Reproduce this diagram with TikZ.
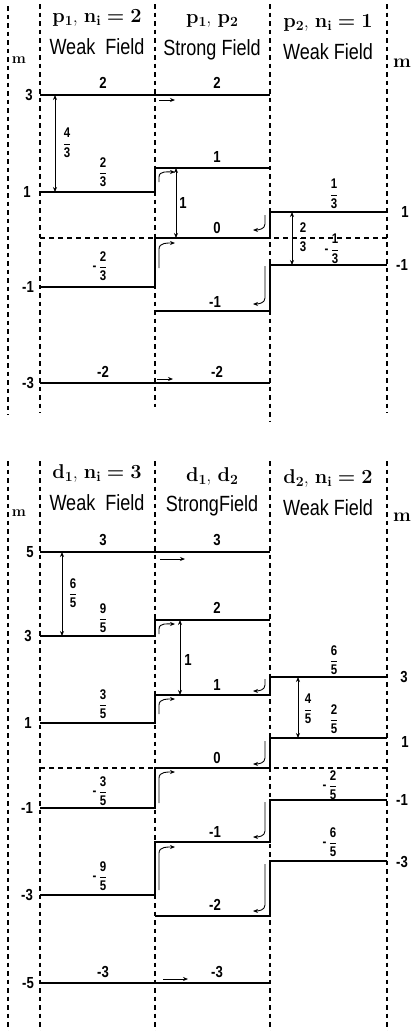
\documentclass[tikz,border=0pt]{standalone}
\usepackage{amsmath}
\usepackage{fontspec}
\usetikzlibrary{arrows.meta}
\newfontfamily\sff[FakeStretch=0.82]{Liberation Sans}
\newcommand\fr[2]{$\genfrac{}{}{0.9pt}{0}{\hbox{#1}}{\hbox{#2}}$}
\newcommand\hsub[2]{\textbf{#1}\raisebox{-0.35ex}{\fontsize{14}{14}\selectfont\textbf{#2}}}
\tikzset{
  vdsh/.style={line width=1.3pt, dash pattern=on 4.5pt off 4pt},
  hdsh/.style={line width=1.2pt, dash pattern=on 5pt off 4pt},
  lvlline/.style={line width=2pt},
  dblarr/.style={{Stealth[length=5pt,width=4pt]}-{Stealth[length=5pt,width=4pt]}, line width=0.8pt},
  hookarr/.style={-{Stealth[length=5pt,width=4pt]}, line width=0.9pt},
  hdrtxt/.style={font=\fontsize{20}{22}\selectfont, inner sep=0pt},
  fldtxt/.style={font=\sff\fontsize{22}{24}\selectfont, inner sep=0pt},
  numtxt/.style={font=\sff\bfseries\fontsize{16}{16}\selectfont, inner sep=0pt},
  axtxt/.style={font=\sff\bfseries\fontsize{16}{16}\selectfont, inner sep=0pt},
  frctxt/.style={font=\sff\bfseries\fontsize{14}{14}\selectfont, inner sep=0pt},
  mltxt/.style={font=\bfseries\fontsize{15}{15}\selectfont, inner sep=0pt},
  mrtxt/.style={font=\bfseries\fontsize{19}{19}\selectfont, inner sep=0pt}
}
\begin{document}
\begin{tikzpicture}[x=1pt,y=-1pt]
\useasboundingbox (0,0) rectangle (414,1031);
% ---------------- TOP: p electrons ----------------
\draw[vdsh] (8,6) -- (8,415);
\draw[vdsh] (40,4) -- (40,413);
\draw[vdsh] (155,4) -- (155,407);
\draw[vdsh] (270,4) -- (270,422);
\draw[vdsh] (387,4) -- (387,413);
\draw[hdsh] (40,238) -- (387,238);
\draw[lvlline] (40,95) -- (270,95);
\draw[lvlline] (40,192) -- (155,192) -- (155,168) -- (270,168);
\draw[lvlline] (40,287) -- (155,287) -- (155,238) -- (270,238) -- (270,212) -- (387,212);
\draw[lvlline] (155,311) -- (270,311) -- (270,265) -- (387,265);
\draw[lvlline] (40,383) -- (270,383);
% headers
\node[hdrtxt] (h1) at (97,18) {\hsub{p}{1}, \hsub{n}{i} \textbf{=} \textbf{2}};
\node[fldtxt] (f1) at (97,47) {Weak\ \ Field};
\node[hdrtxt] (h2) at (212,21) {\hsub{p}{1}, \hsub{p}{2}};
\node[fldtxt] (f2) at (212,50) {Strong Field};
\node[hdrtxt] (h3) at (328,23) {\hsub{p}{2}, \hsub{n}{i} \textbf{=} \textbf{1}};
\node[fldtxt] (f3) at (328,52) {Weak Field};
\node[mltxt] (mL1) at (19,60) {m};
\node[mrtxt] (mR1) at (402,63) {m};
% axis values
\node[axtxt] (a1) at (29,95) {3};
\node[axtxt] (a2) at (27,192) {1};
\node[axtxt] (a3) at (28,287) {-1};
\node[axtxt] (a4) at (28,383) {-3};
\node[axtxt] (a5) at (405,212) {1};
\node[axtxt] (a6) at (402,265) {-1};
% level labels
\node[numtxt] (l1) at (103,83) {2};
\node[numtxt] (l2) at (217,83) {2};
\node[frctxt] (l3) at (103,172) {\fr{2}{3}};
\node[numtxt] (l4) at (217,157) {1};
\node[numtxt] (l5) at (217,228) {0};
\node[frctxt] (l6) at (100,266) {-\,\fr{2}{3}};
\node[numtxt] (l7) at (215,302) {-1};
\node[frctxt] (l8) at (334,194) {\fr{1}{3}};
\node[frctxt] (l9) at (332,249) {-\,\fr{1}{3}};
\node[numtxt] (l10) at (103,372) {-2};
\node[numtxt] (l11) at (217,372) {-2};
% splittings
\draw[dblarr] (55,95) -- (55,192);
\node[frctxt] (s1) at (67,143) {\fr{4}{3}};
\draw[dblarr] (176,168) -- (176,238);
\node[numtxt] (s2) at (183,203) {1};
\draw[dblarr] (292,212) -- (292,265);
\node[frctxt] (s3) at (303,237) {\fr{2}{3}};
% transfer arrows
\draw[hookarr] (159,100) -- (175,100);
\draw[hookarr] (157,379) -- (173,379);
\draw[hookarr] (159,182) -- (159,177) to[out=90,in=180] (175,172);
\draw[hookarr] (159,268) -- (159,249) to[out=90,in=180] (175,243);
\draw[hookarr] (265,215) -- (265,224) to[out=-90,in=0] (253,230);
\draw[hookarr] (265,266) -- (265,298) to[out=-90,in=0] (253,304);
% ---------------- BOTTOM: d electrons ----------------
\draw[vdsh] (8,461) -- (8,1031);
\draw[vdsh] (40,461) -- (40,1031);
\draw[vdsh] (155,461) -- (155,1031);
\draw[vdsh] (270,461) -- (270,1031);
\draw[vdsh] (387,461) -- (387,1031);
\draw[hdsh] (40,768) -- (387,768);
\draw[lvlline] (40,552) -- (270,552);
\draw[lvlline] (40,636) -- (155,636) -- (155,620) -- (270,620);
\draw[lvlline] (40,723) -- (155,723) -- (155,695) -- (270,695) -- (270,677) -- (387,677);
\draw[lvlline] (40,808) -- (155,808) -- (155,768) -- (270,768) -- (270,738) -- (387,738);
\draw[lvlline] (40,895) -- (155,895) -- (155,842) -- (270,842) -- (270,800) -- (387,800);
\draw[lvlline] (155,916) -- (270,916) -- (270,861) -- (387,861);
\draw[lvlline] (40,983) -- (270,983);
% headers
\node[hdrtxt] (h4) at (97,473) {\hsub{d}{1}, \hsub{n}{i} \textbf{=} \textbf{3}};
\node[fldtxt] (f4) at (97,503) {Weak\ \ Field};
\node[hdrtxt] (h5) at (212,476) {\hsub{d}{1}, \hsub{d}{2}};
\node[fldtxt] (f5) at (212,506) {StrongField};
\node[hdrtxt] (h6) at (328,478) {\hsub{d}{2}, \hsub{n}{i} \textbf{=} \textbf{2}};
\node[fldtxt] (f6) at (328,508) {Weak Field};
\node[mltxt] (mL2) at (19,513) {m};
\node[mrtxt] (mR2) at (402,517) {m};
% axis values
\node[axtxt] (b1) at (30,552) {5};
\node[axtxt] (b2) at (28,636) {3};
\node[axtxt] (b3) at (28,723) {1};
\node[axtxt] (b4) at (27,808) {-1};
\node[axtxt] (b5) at (27,895) {-3};
\node[axtxt] (b6) at (28,983) {-5};
\node[axtxt] (b7) at (404,677) {3};
\node[axtxt] (b8) at (405,742) {1};
\node[axtxt] (b9) at (402,800) {-1};
\node[axtxt] (b10) at (402,862) {-3};
% level labels
\node[numtxt] (k1) at (103,540) {3};
\node[numtxt] (k2) at (217,540) {3};
\node[frctxt] (k3) at (103,618) {\fr{9}{5}};
\node[numtxt] (k4) at (217,608) {2};
\node[numtxt] (k5) at (217,685) {1};
\node[frctxt] (k6) at (334,660) {\fr{6}{5}};
\node[frctxt] (k7) at (103,704) {\fr{3}{5}};
\node[frctxt] (k8) at (334,719) {\fr{2}{5}};
\node[numtxt] (k9) at (217,758) {0};
\node[frctxt] (k10) at (100,791) {-\,\fr{3}{5}};
\node[frctxt] (k11) at (330,785) {-\,\fr{2}{5}};
\node[numtxt] (k12) at (215,832) {-1};
\node[frctxt] (k13) at (330,842) {-\,\fr{6}{5}};
\node[frctxt] (k14) at (100,876) {-\,\fr{9}{5}};
\node[numtxt] (k15) at (215,905) {-2};
\node[numtxt] (k16) at (103,972) {-3};
\node[numtxt] (k17) at (217,972) {-3};
% splittings
\draw[dblarr] (62,552) -- (62,636);
\node[frctxt] (t1) at (73,593) {\fr{6}{5}};
\draw[dblarr] (180,620) -- (180,695);
\node[numtxt] (t2) at (188,660) {1};
\draw[dblarr] (298,677) -- (298,738);
\node[frctxt] (t3) at (308,709) {\fr{4}{5}};
% transfer arrows
\draw[hookarr] (160,559) -- (185,559);
\draw[hookarr] (163,979) -- (188,979);
\draw[hookarr] (159,634) -- (159,629) to[out=90,in=180] (175,624);
\draw[hookarr] (159,714) -- (159,705) to[out=90,in=180] (175,699);
\draw[hookarr] (159,803) -- (159,778) to[out=90,in=180] (175,772);
\draw[hookarr] (159,890) -- (159,853) to[out=90,in=180] (175,847);
\draw[hookarr] (265,679) -- (265,685) to[out=-90,in=0] (253,691);
\draw[hookarr] (265,741) -- (265,758) to[out=-90,in=0] (253,764);
\draw[hookarr] (265,802) -- (265,831) to[out=-90,in=0] (253,837);
\draw[hookarr] (265,864) -- (265,905) to[out=-90,in=0] (253,911);
\end{tikzpicture}
\end{document}
